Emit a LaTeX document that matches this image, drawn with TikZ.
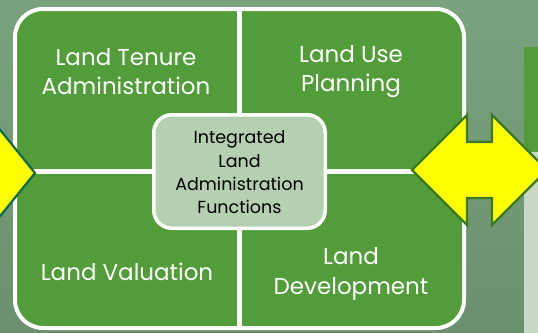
\documentclass[tikz,border=0pt]{standalone}
\usepackage{fontspec}
\setmainfont{Poppins}
\definecolor{bgtop}{HTML}{7AA27E}
\definecolor{bgbot}{HTML}{6B906D}
\definecolor{quadgreen}{HTML}{529C3A}
\definecolor{centerfill}{HTML}{B5CFB1}
\definecolor{panelgray}{HTML}{C9D8C5}
\definecolor{arrowyellow}{HTML}{FFFF00}
\definecolor{tealedge}{HTML}{0D6B55}
\definecolor{greenedge}{HTML}{3B7A1E}
\tikzset{
  quadlabel/.style={text=white, align=center, inner sep=0pt, font=\fontsize{23}{29.5}\selectfont},
  centerlabel/.style={text=black, align=center, inner sep=0pt, font=\fontsize{17.5}{23.3}\selectfont},
  bigarrow/.style={fill=arrowyellow, line width=2.2pt, line join=miter},
}
\begin{document}
\begin{tikzpicture}[x=1pt,y=-1pt]
\useasboundingbox (0,0) rectangle (538,332);
% background
\shade[top color=bgtop, bottom color=bgbot] (0,0) rectangle (538,332);
% right-side panels
\fill[quadgreen] (524,47) rectangle (540,152);
\fill[panelgray] (524,152) rectangle (540,334);
% main block
\draw[white, line width=4pt, fill=quadgreen, rounded corners=28pt] (15,9) rectangle (464,328);
\draw[white, line width=5pt] (239,9) -- (239,328);
\draw[white, line width=5pt] (15,171) -- (464,171);
% centre box
\node[draw=white, line width=3.5pt, fill=centerfill, rounded corners=18pt,
      minimum width=171.5pt, minimum height=113.5pt, inner sep=0pt] (centre) at (239.5,171.5) {};
\node[centerlabel] (centretext) at (239.5,172.5) {Integrated\\Land\\Administration\\Functions};
% quadrant labels
\node[quadlabel] (tenure) at (126,71.5) {Land Tenure\\Administration};
\node[quadlabel] (useplan) at (351,71.5) {Land Use\\Planning};
\node[quadlabel, anchor=base] (valuation) at (127,280) {Land Valuation};
\node[quadlabel] (develop) at (351,274) {Land\\Development};
% left arrow (right head of a double arrow)
\draw[bigarrow, draw=tealedge] (-3,126) -- (35,173) -- (-3,220);
% right double arrow
\draw[bigarrow, draw=greenedge] (412,170) -- (467,115) -- (467,142) -- (492,142) -- (492,115)
  -- (547,170) -- (492,225) -- (492,198) -- (467,198) -- (467,225) -- cycle;
\end{tikzpicture}
\end{document}
